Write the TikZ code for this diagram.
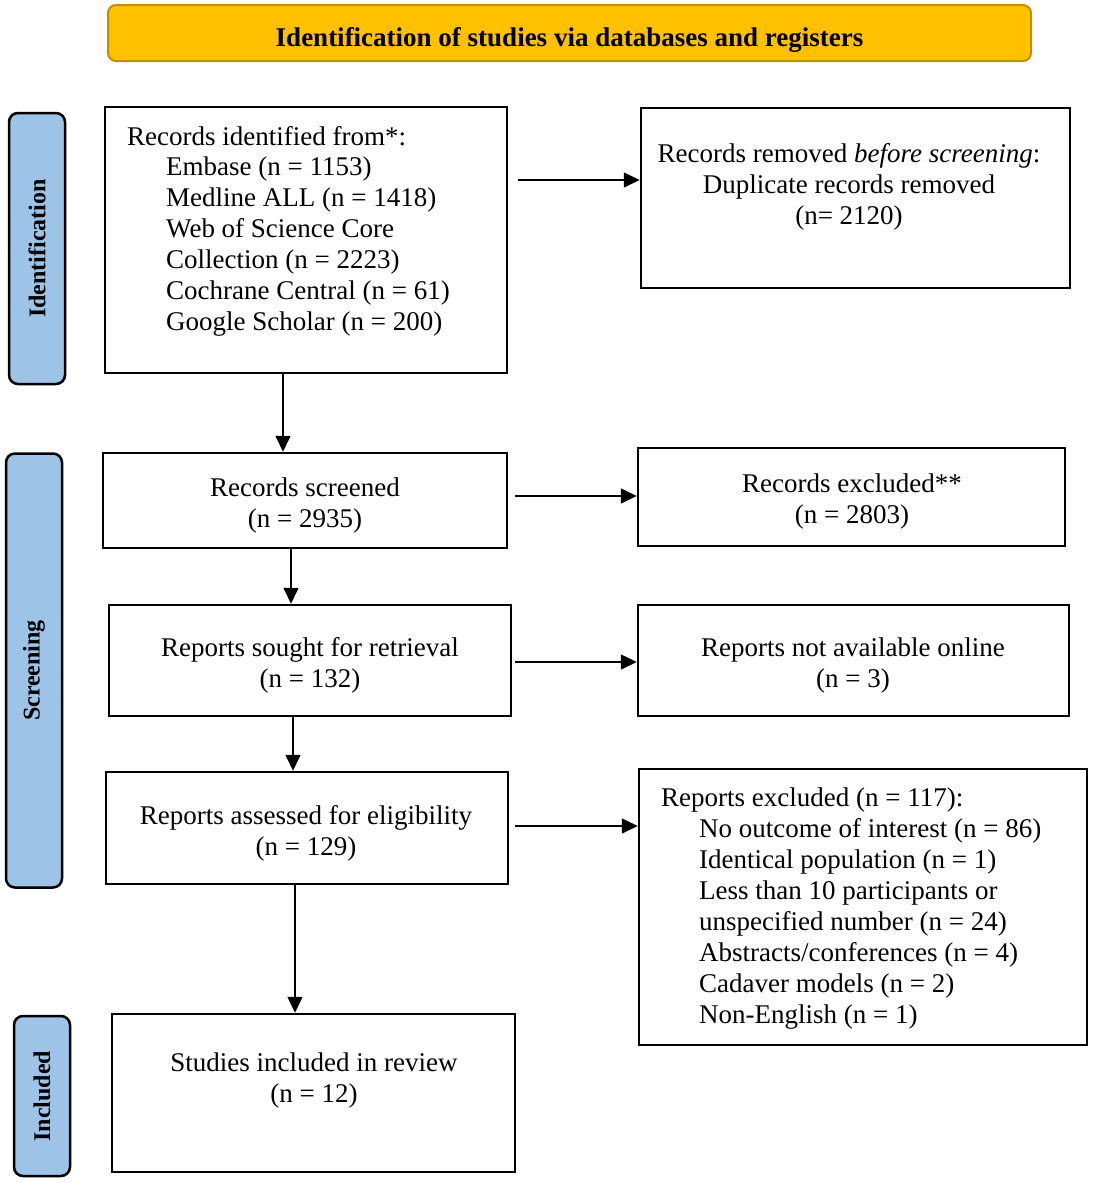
\documentclass[tikz,border=0pt]{standalone}
\usepackage{fontspec}
\setmainfont{Liberation Serif}
\usetikzlibrary{arrows.meta,calc}
\definecolor{titlefill}{HTML}{FFC000}
\definecolor{titledraw}{HTML}{BF9000}
\definecolor{sidefill}{HTML}{9DC3E6}
\begin{document}
\begin{tikzpicture}[x=1pt,y=-1pt,
  box/.style={draw=black, line width=2.5pt, fill=white, inner sep=0pt},
  side/.style={draw=black, line width=2.5pt, fill=sidefill, rounded corners=9pt, rotate=90,
    inner sep=0pt, font=\fontsize{24}{28}\selectfont\bfseries},
  txt/.style={font=\fontsize{27}{31}\selectfont, align=center, inner sep=0pt},
  ltxt/.style={font=\fontsize{27}{31}\selectfont, align=left, inner sep=0pt, anchor=north west},
  arr/.style={line width=1.6pt, -{Triangle[length=16pt,width=15pt]}}]

\useasboundingbox[fill=white] (0,0) rectangle (1092,1183);

% title
\node[draw=titledraw, fill=titlefill, line width=2pt, rounded corners=8pt,
  minimum width=923pt, minimum height=56pt, inner sep=0pt,
  text height=26pt, text depth=0pt,
  font=\fontsize{27}{31}\selectfont\bfseries] (title) at (569.5,33)
  {Identification of studies via databases and registers};

% side phase labels
\node[side, minimum width=271pt, minimum height=56pt] (pid) at (37,248.5) {Identification};
\node[side, minimum width=434pt, minimum height=56pt] (pscr) at (34,670.5) {Screening};
\node[side, minimum width=160pt, minimum height=56pt] (pinc) at (42,1096) {Included};

% boxes
\node[box, minimum width=402pt, minimum height=266pt] (id) at (306,240) {};
\node[box, minimum width=429pt, minimum height=180pt] (rr) at (855.5,198) {};
\node[box, minimum width=404pt, minimum height=95pt] (scr) at (305,500.5) {};
\node[box, minimum width=427pt, minimum height=98pt] (exc) at (851.5,497) {};
\node[box, minimum width=402pt, minimum height=111pt] (sou) at (310,660.5) {};
\node[box, minimum width=431pt, minimum height=111pt] (nav) at (853.5,660.5) {};
\node[box, minimum width=402pt, minimum height=112pt] (ass) at (307,828) {};
\node[box, minimum width=448pt, minimum height=276pt] (rex) at (863,907) {};
\node[box, minimum width=403pt, minimum height=158pt] (inc) at (313.5,1093) {};

% texts
\node[ltxt] (idt1) at (127,126) {Records identified from*:};
\node[ltxt] (idt2) at (166,157) {Embase (n = 1153)\\Medline ALL (n = 1418)\\Web of Science Core\\Collection (n = 2223)\\Cochrane Central (n = 61)\\Google Scholar (n = 200)};
\node[txt] (rrt) at (849,187) {Records removed \emph{before screening}:\\Duplicate records removed\\(n= 2120)};
\node[txt] (scrt) at (305,505.5) {Records screened\\(n = 2935)};
\node[txt] (exct) at (852,501.5) {Records excluded**\\(n = 2803)};
\node[txt] (sout) at (310,665.5) {Reports sought for retrieval\\(n = 132)};
\node[txt] (navt) at (853,665.5) {Reports not available online\\(n = 3)};
\node[txt] (asst) at (306,833.5) {Reports assessed for eligibility\\(n = 129)};
\node[ltxt] (rext1) at (661,787.5) {Reports excluded (n = 117):};
\node[ltxt] (rext2) at (699,818.5) {No outcome of interest (n = 86)\\Identical population (n = 1)\\Less than 10 participants or\\unspecified number (n = 24)\\Abstracts/conferences (n = 4)\\Cadaver models (n = 2)\\Non-English (n = 1)};
\node[txt] (inct) at (314,1080.5) {Studies included in review\\(n = 12)};

% connectors
\coordinate (a1) at (518,180);
\draw[arr] (a1) -- (a1 -| rr.west);
\coordinate (a2) at (515,496);
\draw[arr] (a2) -- (a2 -| exc.west);
\coordinate (a3) at (515,662);
\draw[arr] (a3) -- (a3 -| nav.west);
\coordinate (a4) at (515,826);
\draw[arr] (a4) -- (a4 -| rex.west);

\coordinate (v1) at (283,0);
\draw[arr] (v1 |- id.south) -- (v1 |- scr.north);
\coordinate (v2) at (291,0);
\draw[arr] (v2 |- scr.south) -- (v2 |- sou.north);
\coordinate (v3) at (293,0);
\draw[arr] (v3 |- sou.south) -- (v3 |- ass.north);
\coordinate (v4) at (295,0);
\draw[arr] (v4 |- ass.south) -- (v4 |- inc.north);
\end{tikzpicture}
\end{document}
